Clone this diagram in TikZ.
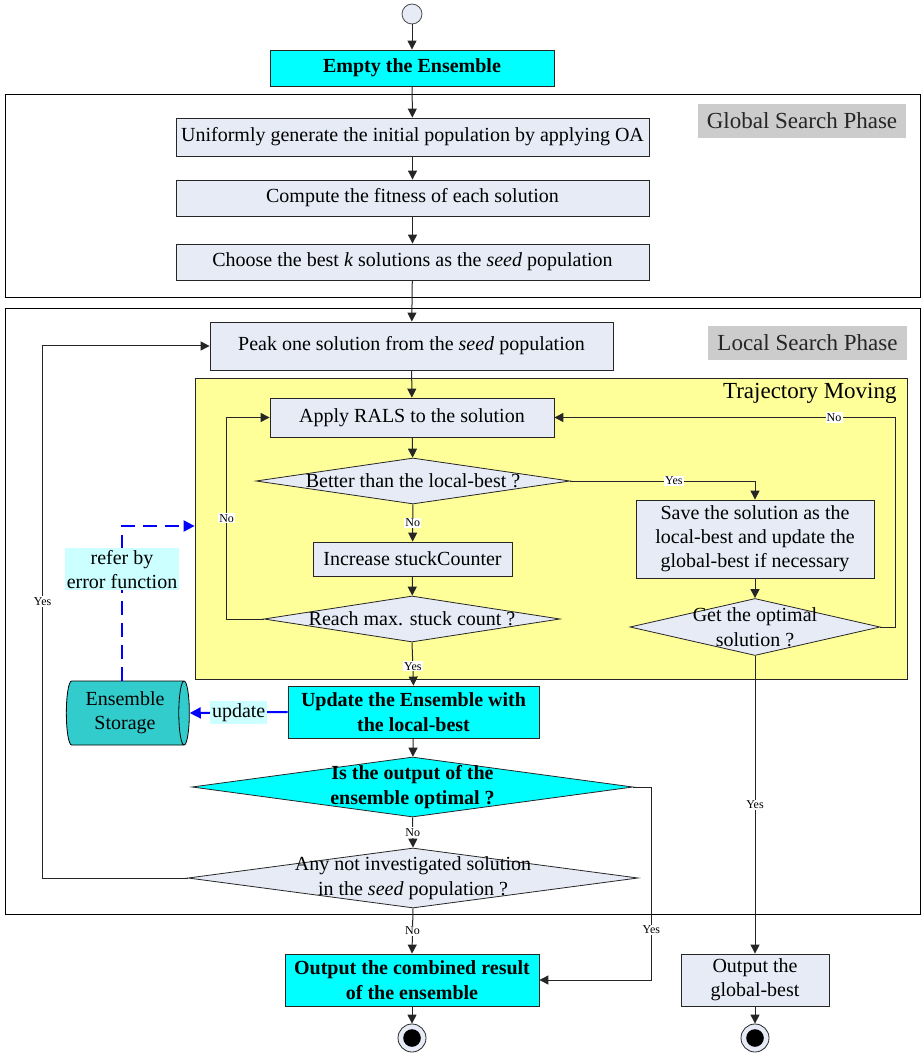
\documentclass[tikz,border=0pt]{standalone}
\usepackage{fontspec}
\setmainfont{Liberation Serif}
\usepackage{tikz}
\usetikzlibrary{positioning, arrows.meta, shapes.geometric}
\definecolor{CajaClara}{RGB}{230,235,246}
\definecolor{CajaCian}{RGB}{0,255,255}
\definecolor{ZonaAmarilla}{RGB}{255,255,153}
\definecolor{FaseGris}{RGB}{204,204,204}
\definecolor{NotaCian}{RGB}{204,255,255}
\definecolor{Almacen}{RGB}{51,204,204}

\begin{document}
\begin{tikzpicture}[x=0.5pt, y=-0.5pt, font=\fontsize{10}{12}\selectfont, >={Triangle[length=4.5pt, width=4.5pt]},
  paso/.style={rectangle, draw=black!85, fill=CajaClara, inner sep=0pt, align=center},
  pasoc/.style={paso, fill=CajaCian, font=\fontsize{10}{12.5}\selectfont\bfseries},
  rombo/.style={diamond, draw=black!85, fill=CajaClara, inner sep=0pt},
  fase/.style={fill=FaseGris, text=black!85, inner sep=0pt, font=\fontsize{11.5}{14}\selectfont},
  resp/.style={fill=white, inner sep=0.6pt, font=\fontsize{6}{7}\selectfont},
  flecha/.style={->, draw=black!85, line width=0.5pt},
  azul/.style={->, draw=blue, line width=1pt, >={Triangle[length=5.5pt, width=5.5pt]}},
  nota/.style={fill=NotaCian, inner sep=1pt, align=center, text=black},
  inicio/.style={circle, draw=black!70, fill=CajaClara, minimum size=10pt, inner sep=0pt},
  fin/.style={circle, draw=black!85, fill=CajaClara, minimum size=14pt, inner sep=0pt,
    path picture={\fill[black] (path picture bounding box.center) circle (4.4pt);}}]
  \useasboundingbox (0,0) rectangle (922,1058);
  % fases
  \draw[line width=0.5pt] (5,95) rectangle (920,298);
  \draw[line width=0.5pt] (5,309) rectangle (920,914);
  \node[fase, minimum width=104pt, minimum height=17pt] (fglobal) at (802,121) {Global Search Phase};
  \node[fase, minimum width=99.5pt, minimum height=17pt] (flocal) at (807.5,343) {Local Search Phase};
  \node[draw=black!85, fill=ZonaAmarilla, minimum width=356pt, minimum height=150.5pt, inner sep=0pt] (tray) at (551,528.5) {};
  \node[anchor=east, inner sep=0pt, font=\fontsize{11.5}{14}\selectfont] (ttray) at (897,393) {Trajectory Moving};

  % pasos
  \node[inicio] (start) at (412,14) {};
  \node[pasoc, minimum width=142pt, minimum height=18pt] (empty) at (412,68) {Empty the Ensemble};
  \node[paso, minimum width=236.5pt, minimum height=19pt] (unif) at (412.5,137) {Uniformly generate the initial population by applying OA};
  \node[paso, minimum width=236.5pt, minimum height=18pt] (comp) at (412.5,198) {Compute the fitness of each solution};
  \node[paso, minimum width=236.5pt, minimum height=18pt] (choose) at (412.5,262) {Choose the best \textit{k} solutions as the \textit{seed} population};
  \node[paso, minimum width=201.5pt, minimum height=24pt] (peak) at (411.5,346) {Peak one solution from the \textit{seed} population};
  \node[paso, minimum width=142pt, minimum height=19.5pt] (apply) at (412,417.5) {Apply RALS to the solution};
  \node[rombo, minimum width=157pt, minimum height=23pt, label={center:Better than the local-best ?}] (better) at (413,481) {};
  \node[paso, minimum width=99.5pt, minimum height=17pt] (incr) at (412.5,559) {Increase stuckCounter};
  \node[rombo, minimum width=148pt, minimum height=23pt, label={center:Reach max. stuck count ?}] (reach) at (412,619) {};
  \node[paso, minimum width=119pt, minimum height=39pt] (save) at (755,539) {Save the solution as the\\local-best and update the\\global-best if necessary};
  \node[rombo, minimum width=125pt, minimum height=28.5pt, label={[align=center, font=\fontsize{10}{12.5}\selectfont]center:Get the optimal\\solution ?}] (getopt) at (755,627) {};
  \node[pasoc, minimum width=125.5pt, minimum height=26pt] (update) at (413.5,712) {Update the Ensemble with\\the local-best};
  \node[cylinder, draw=black, fill=Almacen, aspect=0.25, minimum width=32pt, minimum height=61.5pt, inner sep=0pt, align=center] (store) at (125,713) {Ensemble\\Storage};
  \node[rombo, fill=CajaCian, minimum width=220.5pt, minimum height=30pt, label={[align=center, font=\fontsize{10}{12.5}\selectfont\bfseries]center:Is the output of the\\ensemble optimal ?}] (isout) at (412.5,787) {};
  \node[rombo, minimum width=225pt, minimum height=30pt, label={[align=center, font=\fontsize{10}{12.5}\selectfont]center:Any not investigated solution\\in the \textit{seed} population ?}] (anynot) at (413,878) {};
  \node[pasoc, minimum width=127pt, minimum height=26pt] (outcomb) at (412,980) {Output the combined result\\of the ensemble};
  \node[paso, minimum width=74pt, minimum height=26pt] (outglob) at (755,980) {Output the\\global-best};
  \node[fin] (end1) at (412,1038) {};
  \node[fin] (end2) at (755,1038) {};

  % conexiones
  \draw[flecha] (start) -- (empty);
  \draw[flecha] (empty) -- (unif);
  \draw[flecha] (unif) -- (comp);
  \draw[flecha] (comp) -- (choose);
  \draw[flecha] (choose) -- (peak);
  \draw[flecha] (peak) -- (apply);
  \draw[flecha] (apply) -- (better);
  \draw[flecha] (better) -- node[resp]{No} (incr);
  \draw[flecha] (incr) -- (reach);
  \draw[flecha] (reach.west) -- ++(-37,0) |- node[resp, pos=0.25]{No} (apply.west);
  \draw[flecha] (better.east) -| node[resp, pos=0.28]{Yes} (save.north);
  \draw[flecha] (save) -- (getopt);
  \draw[flecha] (getopt.east) -- ++(15,0) |- node[resp, pos=0.59]{No} (apply.east);
  \draw[flecha] (getopt.south) -- node[resp]{Yes} (outglob.north);
  \draw[flecha] (reach.south) -- node[resp, pos=0.55]{Yes} (update.north);
  \draw[flecha] (update) -- (isout);
  \draw[flecha] (isout.south) -- node[resp]{No} (anynot.north);
  \draw[flecha] (anynot.south) -- node[resp]{No} (outcomb.north);
  \draw[flecha] (isout.east) -- ++(18,0) |- node[resp, pos=0.37]{Yes} (outcomb.east);
  \draw[flecha] (anynot.west) -- ++(-145,0) |- node[resp, pos=0.26]{Yes} (peak.west);
  \draw[flecha] (outcomb) -- (end1);
  \draw[flecha] (outglob) -- (end2);
  \draw[azul] (update.west) -- node[nota]{update} (store.east);
  \draw[azul, dash pattern=on 7pt off 4pt] ([xshift=-1.5pt]store.north) |- node[nota, pos=0.36]{refer by\\error function} ([yshift=1.25pt]tray.west);
\end{tikzpicture}
\end{document}
